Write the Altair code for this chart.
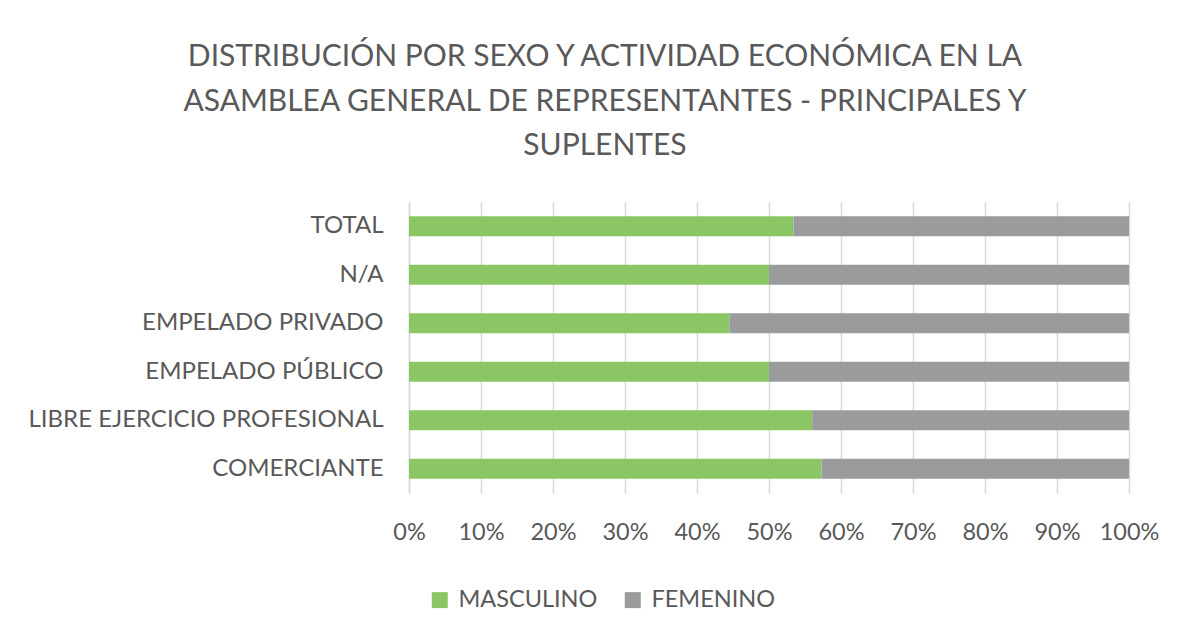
import altair as alt
import pandas as pd

categories = ["TOTAL", "N/A", "EMPELADO PRIVADO", "EMPELADO PÚBLICO",
              "LIBRE EJERCICIO PROFESIONAL", "COMERCIANTE"]
masculino = [53.4, 50.0, 44.5, 50.0, 56.0, 57.3]
femenino = [round(100 - v, 1) for v in masculino]
series = ["MASCULINO", "FEMENINO"]
colors = ["#8BC664", "#999B9C"]
x_ticks = [i / 10 for i in range(11)]

rows = []
for c, m, f in zip(categories, masculino, femenino):
    rows.append({"cat": c, "sexo": "MASCULINO", "val": m, "ord": 0})
    rows.append({"cat": c, "sexo": "FEMENINO", "val": f, "ord": 1})
df = pd.DataFrame(rows)

FONT = "Lato"

chart = alt.Chart(df).mark_bar(size=20).encode(
    y=alt.Y("cat:N", sort=categories, title=None,
            axis=alt.Axis(labelFontSize=24, labelColor="#595959", labelFont=FONT,
                          labelPadding=26, ticks=False, domainColor="#D9D9D9",
                          domainWidth=1.5, grid=False, labelLimit=400)),
    x=alt.X("val:Q", stack="normalize", title=None,
            scale=alt.Scale(domain=[0, 1]),
            axis=alt.Axis(values=x_ticks, format=".0%", labelFontSize=23.5,
                          labelColor="#595959", labelFont=FONT, ticks=False,
                          domain=False, labelPadding=27, gridColor="#D9D9D9",
                          gridWidth=1.5, labelFlush=False)),
    color=alt.Color("sexo:N", scale=alt.Scale(domain=series, range=colors),
                    legend=alt.Legend(title=None, orient="none", direction="horizontal",
                                      legendX=19, legendY=386, symbolType="square",
                                      symbolSize=256, symbolStrokeWidth=0,
                                      labelFontSize=23.5, labelFont=FONT,
                                      labelColor="#595959", labelOffset=7,
                                      columnPadding=23)),
    order=alt.Order("ord:Q"),
).properties(
    width=720, height=291,
    padding={"left": 401, "top": 194, "right": 57, "bottom": 137},
    autosize=alt.AutoSizeParams(type="none"),
    title=alt.TitleParams(
        ["DISTRIBUCIÓN POR SEXO Y ACTIVIDAD ECONÓMICA EN LA",
         "ASAMBLEA GENERAL DE REPRESENTANTES  - PRINCIPALES Y",
         "SUPLENTES"],
        anchor="middle", dx=-164, fontSize=30, font=FONT, fontWeight="normal",
        color="#595959", lineHeight=44.5, offset=41),
).configure_view(stroke=None)

chart.save("out.html", embed_options={"renderer": "svg", "actions": False})
